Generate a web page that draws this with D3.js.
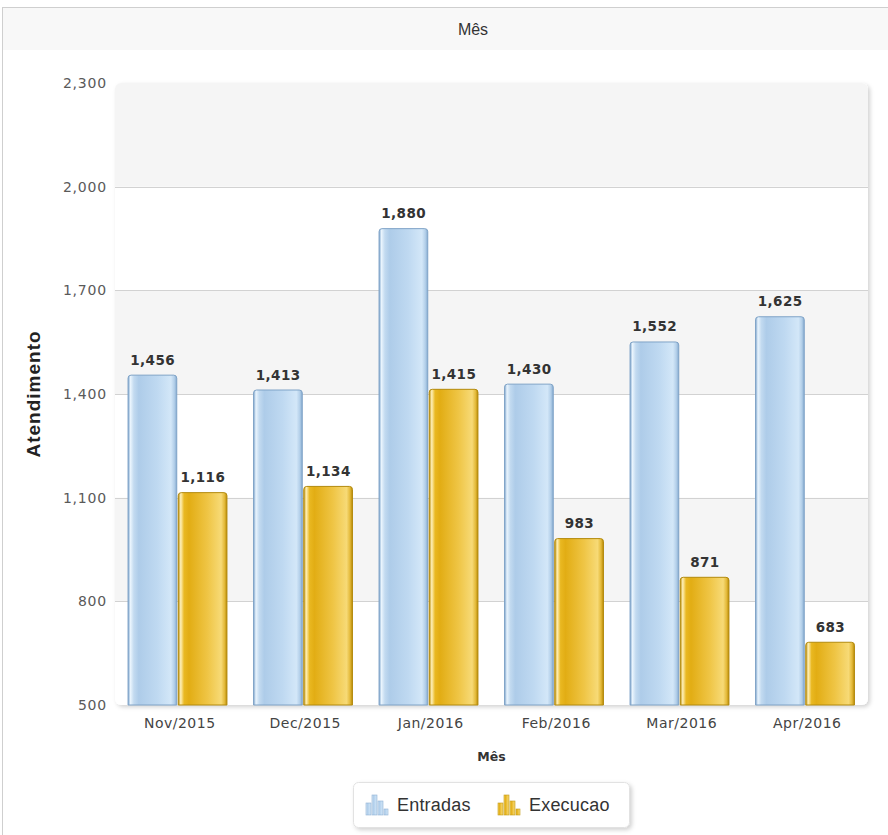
<!DOCTYPE html>
<html><head><meta charset="utf-8">
<script src="https://cdn.jsdelivr.net/npm/d3@7"></script>
<style>body{margin:0;background:#fff;}svg{display:block;}</style>
</head><body>
<svg id="c" width="888" height="835"></svg>
<script>
const categories = ["Nov/2015","Dec/2015","Jan/2016","Feb/2016","Mar/2016","Apr/2016"];
const seriesNames = ["Entradas","Execucao"];
const entradas = [1456,1413,1880,1430,1552,1625];
const execucao = [1116,1134,1415,983,871,683];
const yTicks = [500,800,1100,1400,1700,2000,2300];

const svg = d3.select("#c");
const defs = svg.append("defs");
const W = 888, H = 835;
const pl = 115, pr = 868, pt = 83, pb = 705;

function grad(id, stops){
  const g = defs.append("linearGradient").attr("id", id).attr("x1","0").attr("x2","1").attr("y1","0").attr("y2","0");
  stops.forEach(s => g.append("stop").attr("offset", s[0]).attr("stop-color", s[1]));
}
grad("gBlue", [[0,"#7ea5cc"],[0.05,"#e9f4fd"],[0.12,"#c2daf0"],[0.22,"#aecce9"],[0.6,"#bfd9f1"],[0.88,"#d3e7f8"],[0.95,"#b3cfe9"],[1,"#86abd0"]]);
grad("gGold", [[0,"#b88b08"],[0.05,"#fff0b8"],[0.12,"#e9b821"],[0.22,"#e2ad14"],[0.6,"#efc545"],[0.88,"#f7da76"],[0.95,"#e4ba3a"],[1,"#b88b08"]]);
const f = defs.append("filter").attr("id","sh").attr("x","-10%").attr("y","-10%").attr("width","130%").attr("height","130%");
f.append("feDropShadow").attr("dx",2).attr("dy",2).attr("stdDeviation",2).attr("flood-color","#000").attr("flood-opacity",0.18);

svg.append("rect").attr("x",2.5).attr("y",7.5).attr("width",W+20).attr("height",H+20).attr("fill","#fff").attr("stroke","#cfcfcf");
svg.append("rect").attr("x",3).attr("y",8).attr("width",W).attr("height",42).attr("fill","#f8f8f8");
svg.append("text").attr("x",473).attr("y",35).attr("text-anchor","middle")
  .attr("font-family","Liberation Sans, Arial, sans-serif").attr("font-size",16).attr("fill","#333").text("Mês");

const y = d3.scaleLinear().domain([500,2300]).range([pb,pt]);
const x0 = d3.scaleBand().domain(categories).range([pl,pr]).padding(0);
const x1 = d3.scaleBand().domain(seriesNames).range([x0.bandwidth()*0.1, x0.bandwidth()*0.9]).padding(0);

svg.append("rect").attr("x",pl).attr("y",pt).attr("width",pr-pl).attr("height",pb-pt).attr("rx",6)
  .attr("fill","#fff").attr("filter","url(#sh)");
const clip = defs.append("clipPath").attr("id","pc");
clip.append("rect").attr("x",pl).attr("y",pt).attr("width",pr-pl).attr("height",pb-pt).attr("rx",6);
const pg = svg.append("g").attr("clip-path","url(#pc)");
for (let i=0;i<yTicks.length-1;i++){
  if (i%2===1) pg.append("rect").attr("x",pl).attr("width",pr-pl)
     .attr("y",y(yTicks[i+1])).attr("height",y(yTicks[i])-y(yTicks[i+1])).attr("fill","#f5f5f5");
}
pg.selectAll("line.grid").data(yTicks.slice(1,-1)).join("line")
  .attr("x1",pl).attr("x2",pr).attr("y1",d=>Math.round(y(d))+0.5).attr("y2",d=>Math.round(y(d))+0.5)
  .attr("stroke","#d2d2d2");

const fmt = d3.format(",");
svg.append("g").selectAll("text").data(yTicks).join("text")
  .attr("x",107).attr("y",d=>y(d)+5).attr("text-anchor","end")
  .attr("font-family","DejaVu Sans, Verdana, sans-serif").attr("font-size",14).attr("letter-spacing",0.8)
  .attr("fill","#5a5a5a").text(d=>fmt(d));

svg.append("g").selectAll("text").data(categories).join("text")
  .attr("x",d=>x0(d)+x0.bandwidth()/2+2).attr("y",728).attr("text-anchor","middle")
  .attr("font-family","DejaVu Sans, Verdana, sans-serif").attr("font-size",14).attr("letter-spacing",0.5)
  .attr("fill","#444").text(d=>d);

const data = categories.map((c,i)=>({c, vals:[{s:"Entradas",v:entradas[i]},{s:"Execucao",v:execucao[i]}]}));
const groups = svg.append("g").selectAll("g").data(data).join("g").attr("transform",d=>`translate(${x0(d.c)},0)`);
function barPath(x,w,yt,yb,r){
  return `M${x},${yb}V${yt+r}Q${x},${yt} ${x+r},${yt}H${x+w-r}Q${x+w},${yt} ${x+w},${yt+r}V${yb}Z`;
}
groups.selectAll("path").data(d=>d.vals).join("path")
  .attr("d",d=>barPath(x1(d.s)+0.5, x1.bandwidth()-1.5, y(d.v)+0.5, pb, 3))
  .attr("fill",d=>d.s==="Entradas"?"url(#gBlue)":"url(#gGold)")
  .attr("stroke",d=>d.s==="Entradas"?"#7fa3c7":"#b38a0c").attr("stroke-width",1);
groups.selectAll("text").data(d=>d.vals).join("text")
  .attr("x",d=>x1(d.s)+x1.bandwidth()/2).attr("y",d=>y(d.v)-10).attr("text-anchor","middle")
  .attr("font-family","DejaVu Sans, Verdana, sans-serif").attr("font-weight","bold").attr("font-size",13.5)
  .attr("letter-spacing",0.4).attr("fill","#333").text(d=>fmt(d.v));

svg.append("text").attr("transform",`translate(40,${(pt+pb)/2}) rotate(-90)`).attr("text-anchor","middle")
  .attr("font-family","Liberation Sans, Arial, sans-serif").attr("font-weight","bold").attr("font-size",19)
  .attr("letter-spacing",1).attr("fill","#222").text("Atendimento");
svg.append("text").attr("x",(pl+pr)/2).attr("y",761).attr("text-anchor","middle")
  .attr("font-family","DejaVu Sans, Verdana, sans-serif").attr("font-weight","bold").attr("font-size",12.5)
  .attr("fill","#333").text("Mês");

const lg = svg.append("g");
lg.append("rect").attr("x",353.5).attr("y",782.5).attr("width",276).attr("height",45).attr("rx",5)
  .attr("fill","#fff").attr("stroke","#e2e2e2").attr("filter","url(#sh)");
const legendItems = [{s:"Entradas",x:366,fill:"url(#gBlue)",st:"#8fb1d3"},{s:"Execucao",x:498,fill:"url(#gGold)",st:"#c29a17"}];
legendItems.forEach(it=>{
  [12,20,14].forEach((h,j)=>{
    lg.append("rect").attr("x",it.x+j*6).attr("y",815-h).attr("width",5).attr("height",h)
      .attr("fill",it.fill).attr("stroke",it.st).attr("stroke-width",0.6);
  });
  lg.append("rect").attr("x",it.x+18).attr("y",809).attr("width",4).attr("height",6).attr("fill",it.fill).attr("stroke",it.st).attr("stroke-width",0.6);
  lg.append("text").attr("x",it.x+31).attr("y",811).attr("font-family","Liberation Sans, Arial, sans-serif")
    .attr("font-size",18).attr("letter-spacing",0.2).attr("fill","#333").text(it.s);
});
</script>
</body></html>
